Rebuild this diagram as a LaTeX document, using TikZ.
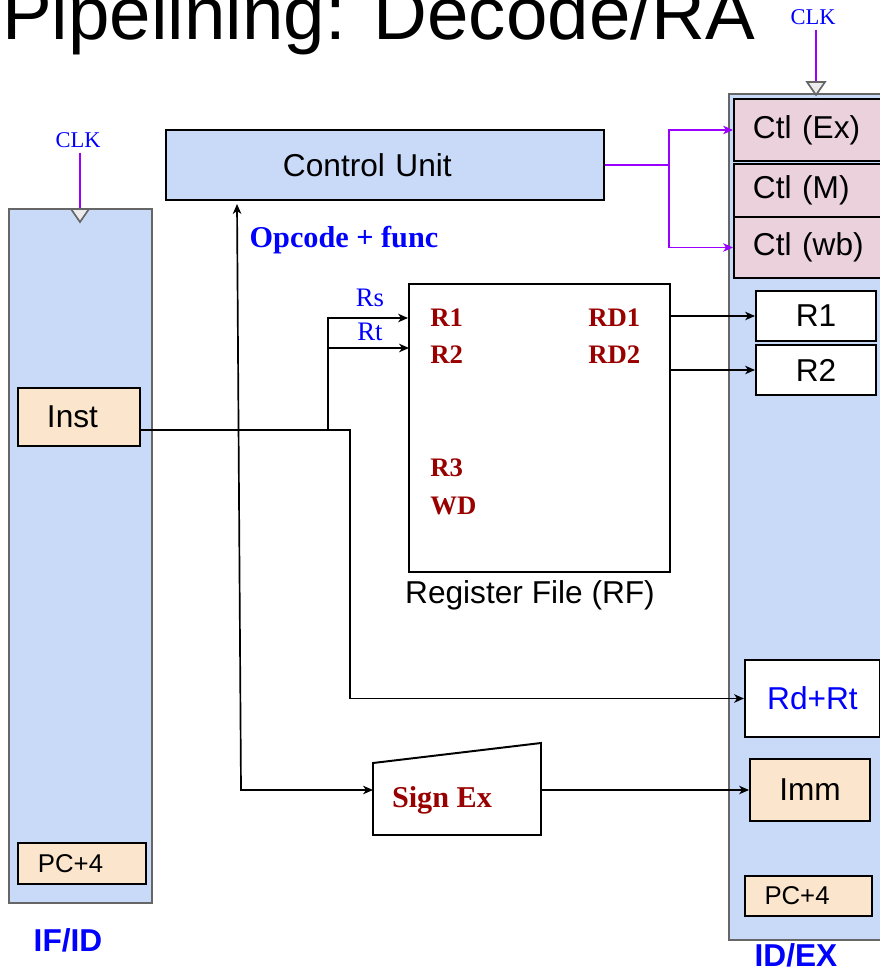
\documentclass[tikz,border=0pt]{standalone}
\usepackage{fontspec}
\setmainfont{Liberation Sans}
\newfontfamily\serifface{Liberation Serif}
\usetikzlibrary{arrows.meta, positioning}
\definecolor{latchblue}{HTML}{C9DAF8}
\definecolor{latchgray}{HTML}{666666}
\definecolor{fieldpeach}{HTML}{FCE5CD}
\definecolor{ctlpink}{HTML}{EAD1DC}
\definecolor{clkpurple}{HTML}{9900FF}
\definecolor{rfred}{HTML}{990000}
\newcommand{\fsTitle}{\fontsize{53}{60}\selectfont}
\newcommand{\fsBox}{\fontsize{22.5}{27}\selectfont}
\newcommand{\fsPC}{\fontsize{18.3}{22}\selectfont}
\newcommand{\fsClk}{\fontsize{16}{19}\selectfont}
\newcommand{\fsReg}{\fontsize{19}{23}\selectfont}
\newcommand{\fsOp}{\fontsize{21.5}{26}\selectfont}

\begin{document}
\begin{tikzpicture}[
    x=0.025cm, y=-0.025cm,
    >={Stealth[length=7pt, width=6pt, inset=2pt]},
    size/.style 2 args={minimum width=#1*0.025cm, minimum height=#2*0.025cm},
    latch/.style={draw=latchgray, fill=latchblue, line width=1.4pt, inner sep=0pt},
    field/.style={draw, line width=1.4pt, inner sep=0pt, font=\fsBox},
    peach/.style={field, fill=fieldpeach},
    ctlbox/.style={field, fill=ctlpink, text width=2.95cm, align=left},
    rflabel/.style={anchor=west, inner sep=0pt, text=rfred, font=\serifface\bfseries\fsReg},
    pinname/.style={text=blue, font=\serifface\fsReg},
    clk/.style={text=blue, font=\serifface\fsClk},
    clkline/.style={draw=clkpurple, line width=1.4pt},
    clktri/.style={draw=latchgray, fill=gray!15, line width=1.2pt},
    wire/.style={->, line width=1.2pt},
    ctlwire/.style={wire, draw=clkpurple},
    tag/.style={text=blue, font=\bfseries\fsBox}
]
\useasboundingbox (0,0) rectangle (880,972);
\clip (0,0) rectangle (880,972);

% Title
\node[anchor=base west, inner sep=0pt, font=\fsTitle] (title) at (2,40) {Pipelining: Decode/RA};

% IF/ID latch
\node[latch, size={143}{694}] (ifid) at (80.5,556) {};
\node[peach, size={122}{58}, text width=1.6cm, align=left] (inst) at (79,417) {Inst};
\node[peach, font=\fsPC, size={128}{41}, text width=2.2cm, align=left] (pcl) at (82,863.5) {PC+4};
\node[tag] (ifidtag) at (68,940) {IF/ID};
\node[clk] (clkL) at (78,140) {CLK};
\draw[clkline] (clkL.south -| 80,0) -- (80,209);
\draw[clktri] (71,209) -- (89,209) -- (80,222) -- cycle;

% ID/EX latch
\node[latch, size={166}{846}] (idex) at (812,517) {};
\node[ctlbox, size={156}{62}] (ctlex) at (812,130) {Ctl (Ex)};
\node[ctlbox, size={156}{53}] (ctlm) at (812,190.5) {Ctl (M)};
\node[ctlbox, size={156}{61}] (ctlwb) at (812,247.5) {Ctl (wb)};
\node[field, fill=white, size={120}{50}] (r1) at (816,316) {R1};
\node[field, fill=white, size={120}{50}] (r2) at (816,370) {R2};
\node[field, fill=white, text=blue, size={135}{77}] (rdrt) at (812.5,698.5) {Rd+Rt};
\node[peach, size={120}{62}] (imm) at (810,790) {Imm};
\node[peach, font=\fsPC, size={127}{40}, text width=2.2cm, align=left] (pcr) at (808.5,896) {PC+4};
\node[tag] (idextag) at (796,955) {ID/EX};
\node[clk] (clkR) at (813,17) {CLK};
\draw[clkline] (clkR.south -| 816,0) -- (816,82);
\draw[clktri] (807,82) -- (825,82) -- (816,95) -- cycle;

% Control unit
\node[field, fill=latchblue, size={438}{70}, text width=5.1cm, align=left] (cu) at (385,165) {Control Unit};
\node[text=blue, font=\serifface\bfseries\fsOp] (opfunc) at (344,240) {Opcode + func};

% Register file
\node[draw, fill=white, line width=1.4pt, inner sep=0pt, size={261}{288}] (rf) at (539.5,428) {};
\node[rflabel] (rfr1) at (430,318) {R1};
\node[rflabel] (rfr2) at (430,355) {R2};
\node[rflabel] (rfrd1) at (588,318) {RD1};
\node[rflabel] (rfrd2) at (588,355) {RD2};
\node[rflabel] (rfr3) at (430,468) {R3};
\node[rflabel] (rfwd) at (430,506) {WD};
\node[font=\fsBox] (rfname) at (530,595) {Register File (RF)};
\node[pinname] (rs) at (370,298) {Rs};
\node[pinname] (rt) at (370,332) {Rt};

% Sign extension
\coordinate (sxtl) at (373,763);
\coordinate (sxtr) at (541,743);
\coordinate (sxbr) at (541,835);
\coordinate (sxbl) at (373,835);
\draw[line width=1.4pt, fill=white] (sxtl) -- (sxtr) -- (sxbr) -- (sxbl) -- cycle;
\node[text=rfred, font=\serifface\bfseries\fsOp] (signex) at (442,800) {Sign Ex};
\coordinate (sxin) at (373,790);
\coordinate (sxout) at (541,790);

% Instruction fields
\coordinate (tap) at (328,430);
\coordinate (tapb) at (350,430);
\coordinate (rtin) at (409,348);
\draw[wire] (inst.east |- tap) -- (tapb) |- (rdrt.west);
\draw[wire] (tap) |- (rf.west |- rfr1);
\draw[wire] (tap |- rtin) -- (rtin);

% Opcode and immediate
\coordinate (optop) at (237,204);
\coordinate (opbot) at (241,790);
\draw[wire, <->] (optop) -- (opbot) -- (sxin);
\draw[wire] (sxout) -- (imm.west);

% Read data
\draw[wire] (rf.east |- r1.west) -- (r1.west);
\draw[wire] (rf.east |- r2.west) -- (r2.west);

% Control signals
\coordinate (cusplit) at (669,165);
\draw[ctlwire] (cu.east) -- (cusplit) |- (ctlex.west);
\draw[ctlwire] (cusplit) |- (ctlwb.west);

\end{tikzpicture}
\end{document}
